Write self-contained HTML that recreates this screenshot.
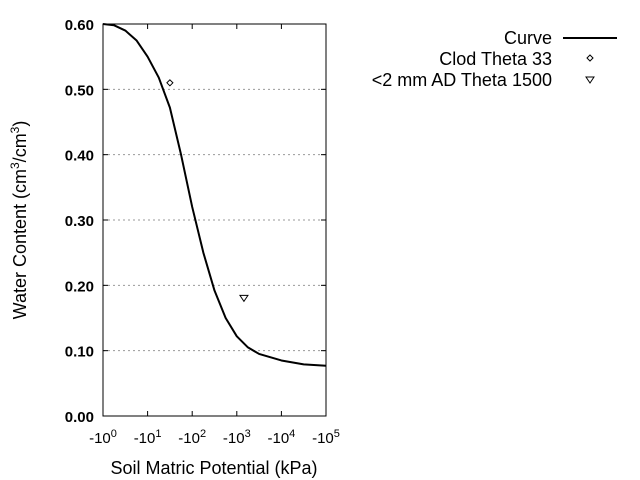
<!DOCTYPE html>
<html><head><meta charset="utf-8"><style>
body{margin:0;background:#fff;}
svg{display:block;font-family:"Liberation Sans",Arial,sans-serif;}
</style></head><body>
<svg id="chart" width="640" height="480" viewBox="0 0 640 480">
<g id="grid"></g>
<g id="axes"></g>
<g id="series"></g>
<text transform="translate(26,220) rotate(-90)" text-anchor="middle" font-size="18">Water Content (cm<tspan dy="-7" font-size="12">3</tspan><tspan dy="7">/cm</tspan><tspan dy="-7" font-size="12">3</tspan><tspan dy="7">)</tspan></text>
<text x="214" y="474" text-anchor="middle" font-size="18">Soil Matric Potential (kPa)</text>
<g font-size="18">
<text x="552" y="44" text-anchor="end">Curve</text>
<line x1="563" y1="38" x2="617" y2="38" stroke="#000" stroke-width="2"/>
<text x="552" y="65" text-anchor="end">Clod Theta 33</text>
<path d="M590,55 l3,3 l-3,3 l-3,-3z" fill="none" stroke="#000"/>
<text x="552" y="86" text-anchor="end">&lt;2 mm AD Theta 1500</text>
<path d="M586,77 h8 l-4,6z" fill="none" stroke="#000"/>
</g>
</svg>
<script>
const curveLogH=[0,0.25,0.5,0.75,1.0,1.25,1.5,1.75,2.0,2.25,2.5,2.75,3.0,3.25,3.5,4.0,4.5,5.0];
const curveTheta=[0.600,0.598,0.590,0.575,0.550,0.518,0.472,0.400,0.320,0.250,0.192,0.150,0.122,0.105,0.095,0.085,0.079,0.077];
const clodLogH=[1.5]; const clodTheta=[0.51];
const adLogH=[3.16]; const adTheta=[0.18];
const yTicks=[0,0.1,0.2,0.3,0.4,0.5,0.6];
const yTickLabels=["0.00","0.10","0.20","0.30","0.40","0.50","0.60"];
const xTicks=[0,1,2,3,4,5];
const NS="http://www.w3.org/2000/svg";
const L=103,R=326,T=24,B=416;
const xs=v=>L+(v-0)/(5-0)*(R-L);
const ys=v=>B-(v-0)/(0.6-0)*(B-T);
function mk(tag,attrs,parent){const e=document.createElementNS(NS,tag);for(const k in attrs)e.setAttribute(k,attrs[k]);parent.appendChild(e);return e;}
const grid=document.getElementById('grid'),axes=document.getElementById('axes'),series=document.getElementById('series');
yTicks.forEach((v,i)=>{
 const y=ys(v);
 if(v>0&&v<0.6){const g=mk('line',{x1:L,x2:R,y1:y,y2:y,stroke:'#999','stroke-dasharray':'2,3'},grid);
 
 }
 const t=mk('line',{x1:L,x2:L+5,y1:y,y2:y,stroke:'#000'},axes);
 
 
 const t2=mk('line',{x1:R,x2:R-5,y1:y,y2:y,stroke:'#000'},axes);
 
 
 const lb=mk('text',{x:L-9,y:y+6,'text-anchor':'end','font-size':'15','font-weight':'bold'},axes);
 lb.textContent=yTickLabels[i];
 
 
});
xTicks.forEach(v=>{
 const x=xs(v);
 const t=mk('line',{x1:x,x2:x,y1:B,y2:B-5,stroke:'#000'},axes);
 
 
 const t2=mk('line',{x1:x,x2:x,y1:T,y2:T+5,stroke:'#000'},axes);
 
 
 const lb=mk('text',{x:x,y:B+27,'text-anchor':'middle','font-size':'15'},axes);
 lb.innerHTML='-10<tspan dy="-6" font-size="11">'+v+'</tspan>';
 
 
});
const fr=mk('rect',{x:L,y:T,width:R-L,height:B-T,fill:'none',stroke:'#000'},axes);


const pl=mk('polyline',{points:curveLogH.map((v,i)=>xs(v)+','+ys(curveTheta[i])).join(' '),fill:'none',stroke:'#000','stroke-width':'2','stroke-linejoin':'round'},series);


clodLogH.forEach((v,i)=>{const x=xs(v),y=ys(clodTheta[i]);
 const p=mk('path',{d:`M${x},${y-3} l3,3 l-3,3 l-3,-3z`,fill:'none',stroke:'#000'},series);
 
 });
adLogH.forEach((v,i)=>{const x=xs(v),y=ys(adTheta[i]);
 const p=mk('path',{d:`M${x-4},${y-3} h8 l-4,6z`,fill:'none',stroke:'#000'},series);
 
 });
</script>
</body></html>
